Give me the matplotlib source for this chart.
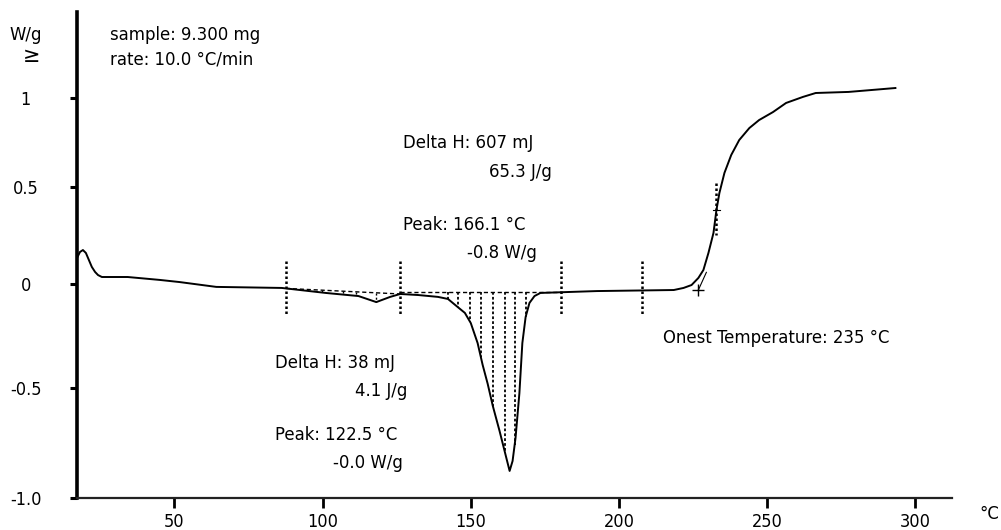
import numpy as np
import matplotlib
matplotlib.use('Agg')
import matplotlib.pyplot as plt

plt.rcParams['font.family'] = ['DejaVu Sans']
plt.rcParams['font.stretch'] = 'condensed'

# DSC curve (temperature in degC, heat flow in W/g)
temp = [17.1, 18.1, 19.1, 20.1, 21.1, 22.1, 23.2, 24.2, 25.5, 34.2, 45.0, 51.7,
        64.1, 86.2, 101.0, 112.1, 118.1, 122.8, 126.2, 132.2, 138.9, 142.3,
        145.6, 148.0, 150.0, 152.3, 154.0, 155.7, 157.4, 159.7, 161.4, 163.1,
        164.1, 165.1, 166.4, 167.4, 168.5, 169.8, 171.5, 173.5, 192.6, 218.5,
        221.8, 224.5, 226.8, 228.5, 230.2, 231.9, 232.9, 233.9, 235.6, 237.9,
        240.6, 244.0, 247.3, 252.0, 256.4, 262.1, 266.4, 277.5, 293.3]
flow = [0.134, 0.165, 0.175, 0.160, 0.124, 0.088, 0.062, 0.046, 0.036, 0.036,
        0.021, 0.010, -0.014, -0.019, -0.043, -0.058, -0.087, -0.062, -0.048,
        -0.053, -0.062, -0.072, -0.111, -0.139, -0.188, -0.284, -0.389, -0.48,
        -0.58, -0.695, -0.786, -0.877, -0.832, -0.727, -0.524, -0.284, -0.159,
        -0.091, -0.058, -0.043, -0.034, -0.029, -0.019, -0.005, 0.031, 0.072,
        0.160, 0.263, 0.381, 0.469, 0.579, 0.680, 0.764, 0.831, 0.876, 0.921,
        0.972, 1.006, 1.028, 1.034, 1.056]

# integration limits and hatch positions
limits = [87.6, 126.2, 180.5, 207.7]
small_hatch = [99.7, 107.0, 111.1, 118.1]
main_hatch = [142.3, 145.6, 149.7, 153.4, 157.4, 161.4, 164.8, 168.5]
onset_temp = 232.9
onset_point = (226.8, -0.029)

xticks = [50, 100, 150, 200, 250, 300]
yticks = [1, 0.5, 0, -0.5, -1.0]
ylabels = ['1', '0.5', '0', '-0.5', '-1.0']

# the printed axis is not evenly spaced, so use a piecewise linear scale
kv = np.array([-1.0, -0.5, 0.0, 0.5, 1.0])
ku = np.array([-498.0, -388.0, -284.0, -187.0, -98.0])


def pw(v, a, b):
    v = np.asarray(v, float)
    out = np.interp(v, a, b)
    lo = v < a[0]
    hi = v > a[-1]
    out = np.where(lo, b[0] + (v - a[0]) * (b[1] - b[0]) / (a[1] - a[0]), out)
    out = np.where(hi, b[-1] + (v - a[-1]) * (b[-1] - b[-2]) / (a[-1] - a[-2]), out)
    return out


fig = plt.figure(figsize=(10.01, 5.30), dpi=100)
ax = fig.add_axes([77 / 1001, 32 / 530, 875 / 1001, 486 / 530])
ax.set_yscale('function', functions=(lambda v: pw(v, kv, ku), lambda u: pw(u, ku, kv)))

ax.plot(temp, flow, color='black', lw=1.4)

flow_at = lambda t: np.interp(t, temp, flow)

# small peak: sloped baseline
b0 = (limits[0], flow_at(limits[0]))
b1 = (limits[1], flow_at(limits[1]))
ax.plot([b0[0], b1[0]], [b0[1], b1[1]], color='black', lw=1, ls=(0, (3, 2)))
for t in small_hatch:
    base = np.interp(t, [b0[0], b1[0]], [b0[1], b1[1]])
    ax.plot([t, t], [base, flow_at(t)], color='black', lw=1, ls=(0, (1.5, 1.5)))

# main peak: flat baseline
base_main = -0.04
ax.plot([limits[1], limits[2]], [base_main, base_main], color='black', lw=1, ls=(0, (3, 2)))
for t in main_hatch:
    ax.plot([t, t], [base_main, flow_at(t)], color='black', lw=1.3, ls=(0, (1.5, 1.2)))

# limit markers
for t in limits:
    ax.plot([t, t], [0.118, -0.154], color='black', lw=1.8, ls=(0, (1, 1)))
ax.plot([onset_temp, onset_temp], [0.52, 0.25], color='black', lw=1.8, ls=(0, (1, 1)))
ax.plot([onset_temp - 1.2, onset_temp + 1.2], [0.38, 0.38], color='black', lw=0.8)
ax.plot(*onset_point, marker='+', color='black', ms=8, mew=1)
ax.plot([onset_point[0], 229.5], [onset_point[1], 0.06], color='black', lw=0.8)

ax.set_xlim(17.1, 312.4)
ax.set_ylim(-1.0, 1.483)
ax.set_xticks(xticks)
ax.set_xticklabels([str(t) for t in xticks])
ax.set_yticks(yticks)
ax.set_yticklabels(ylabels, ha='center')

ax.spines['top'].set_visible(False)
ax.spines['right'].set_visible(False)
ax.spines['left'].set_linewidth(2.6)
ax.spines['bottom'].set_linewidth(1.6)
ax.spines['bottom'].set_color('#222222')
ax.tick_params(axis='y', direction='out', length=5, width=2.2, pad=32, labelsize=13)
ax.tick_params(axis='x', direction='out', length=7, width=2, pad=3.5, labelsize=13)

fs = 13.2


def put(px, py, s, ha='left', size=fs, **kw):
    fig.text(px / 1001, 1 - py / 530, s, ha=ha, va='baseline', fontsize=size, **kw)


put(26, 40, 'W/g', ha='center')
put(32, 62, '≥', ha='center', size=15, family='DejaVu Sans', stretch='normal')
put(110, 40, 'sample: 9.300 mg')
put(110, 64, 'rate: 10.0 °C/min')
put(403, 148, 'Delta H: 607 mJ')
put(552, 177, '65.3 J/g', ha='right')
put(403, 230, 'Peak: 166.1 °C')
put(537, 258, '-0.8 W/g', ha='right')
put(275, 368, 'Delta H: 38 mJ')
put(407, 396, '4.1 J/g', ha='right')
put(275, 440, 'Peak: 122.5 °C')
put(403, 468, '-0.0 W/g', ha='right')
put(663, 343, 'Onest Temperature: 235 °C')
put(989, 519, '°C', ha='center')

fig.savefig('out.png', dpi=100)
